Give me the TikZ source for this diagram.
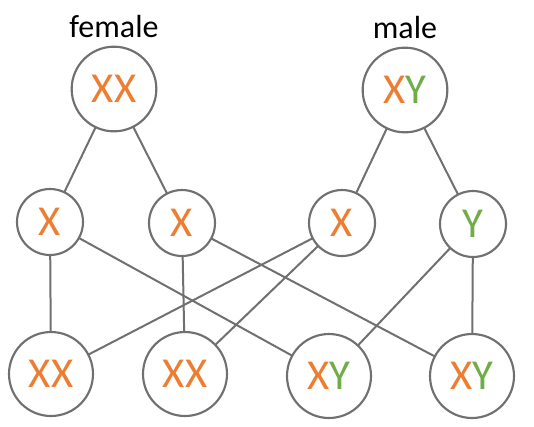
\documentclass[tikz,border=0pt]{standalone}
\usepackage{fontspec}
\setmainfont{Carlito}
\usepackage{tikz}
\usetikzlibrary{positioning}
\definecolor{xorange}{RGB}{237,125,49}
\definecolor{ygreen}{RGB}{112,173,71}
\definecolor{linegray}{RGB}{112,112,112}
\tikzset{
  parent/.style={
    circle, draw=linegray, line width=1.6pt, fill=white,
    minimum size=63.5pt, inner sep=0pt, font=\fontsize{32}{32}\selectfont
  },
  gamete/.style={parent, minimum size=49.5pt},
  child/.style={parent, minimum size=63pt},
  link/.style={linegray, line width=1.5pt},
  sexlabel/.style={font=\fontsize{24}{24}\selectfont, text=black}
}
\newcommand{\Xc}{\textcolor{xorange}{X}}
\newcommand{\Yc}{\textcolor{ygreen}{Y}}

\begin{document}
\begin{tikzpicture}[x=0.75pt, y=-0.75pt]
  \useasboundingbox (0,0) rectangle (534,426);

  % links first, circles drawn on top
  \coordinate (fem) at (114,89);
  \coordinate (mal) at (405,90);
  \coordinate (g1) at (50,222);
  \coordinate (g2) at (182,223);
  \coordinate (g3) at (342,223);
  \coordinate (g4) at (473,224);
  \coordinate (c1) at (51,374);
  \coordinate (c2) at (185,374);
  \coordinate (c3) at (329,376);
  \coordinate (c4) at (472,376);

  \draw[link] (fem) -- (g1);
  \draw[link] (fem) -- (g2);
  \draw[link] (mal) -- (g3);
  \draw[link] (mal) -- (g4);
  \draw[link] (g1) -- (c1);
  \draw[link] (g1) -- (c3);
  \draw[link] (g2) -- (c2);
  \draw[link] (g2) -- (c4);
  \draw[link] (g3) -- (c1);
  \draw[link] (g3) -- (c2);
  \draw[link] (g4) -- (c3);
  \draw[link] (g4) -- (c4);

  \node[parent] (female) at (fem) {\Xc\Xc};
  \node[parent] (male) at (mal) {\Xc\Yc};
  \node[sexlabel, above=2pt of female] (flabel) {female};
  \node[sexlabel, above=2pt of male] (mlabel) {male};

  \node[gamete] (gf1) at (g1) {\Xc};
  \node[gamete] (gf2) at (g2) {\Xc};
  \node[gamete] (gm1) at (g3) {\Xc};
  \node[gamete] (gm2) at (g4) {\Yc};

  \node[child] (k1) at (c1) {\Xc\Xc};
  \node[child] (k2) at (c2) {\Xc\Xc};
  \node[child] (k3) at (c3) {\Xc\Yc};
  \node[child] (k4) at (c4) {\Xc\Yc};
\end{tikzpicture}
\end{document}
